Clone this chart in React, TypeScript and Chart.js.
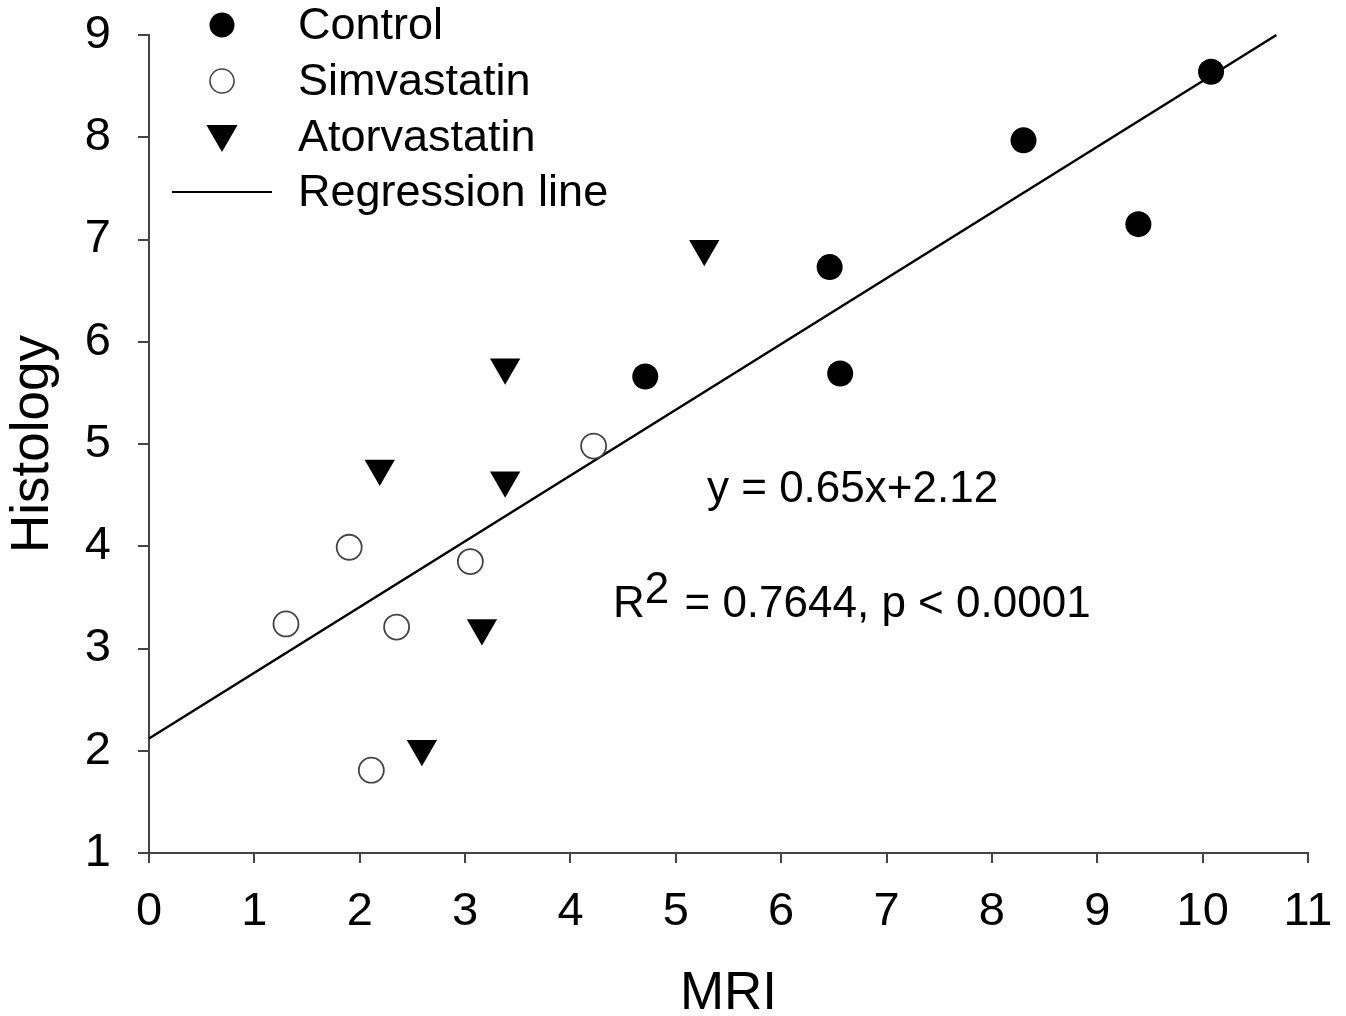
import React, { useEffect, useRef } from 'react';
import { Chart, registerables } from 'chart.js';

Chart.register(...registerables);

// ---- Data ----
const controlX = [4.71, 6.46, 6.56, 8.3, 9.39, 10.08];
const controlY = [5.66, 6.73, 5.69, 7.97, 7.15, 8.64];
const simvastatinX = [1.3, 1.9, 2.11, 2.35, 3.05, 4.22];
const simvastatinY = [3.24, 3.99, 1.81, 3.21, 3.85, 4.98];
const atorvastatinX = [2.19, 2.59, 3.16, 3.38, 3.38, 5.27];
const atorvastatinY = [4.76, 2.02, 3.2, 4.645, 5.75, 6.91];
const regressionX = [0, 10.7];
const regressionY = [2.12, 9.0];

const xTicks = [0, 1, 2, 3, 4, 5, 6, 7, 8, 9, 10, 11];
const yTicks = [1, 2, 3, 4, 5, 6, 7, 8, 9];

const seriesNames = ['Control', 'Simvastatin', 'Atorvastatin', 'Regression line'];
const xTitle = 'MRI';
const yTitle = 'Histology';
const equationText = 'y = 0.65x+2.12';
const statsPrefix = 'R';
const statsSup = '2';
const statsRest = ' = 0.7644, p < 0.0001';

const FONT = '"Liberation Sans", Arial, sans-serif';
const AXIS = '#444444';

const toPoints = (xs: number[], ys: number[]) => xs.map((x, i) => ({ x, y: ys[i] }));

const extrasPlugin = {
  id: 'extras',
  afterDraw(chart: any) {
    const { ctx, chartArea } = chart;
    const { left, top, bottom } = chartArea;
    ctx.save();
    // x-axis extension to the left of the y axis
    ctx.strokeStyle = AXIS;
    ctx.lineWidth = 2;
    ctx.beginPath();
    ctx.moveTo(left - 11, bottom);
    ctx.lineTo(left, bottom);
    ctx.stroke();

    // Legend
    const mx = left + 73;
    const rows = [top - 10, top + 46, top + 102, top + 157];
    const tx = left + 149;
    // Control
    ctx.fillStyle = '#000';
    ctx.beginPath();
    ctx.arc(mx, rows[0], 12.5, 0, Math.PI * 2);
    ctx.fill();
    // Simvastatin
    ctx.fillStyle = '#fff';
    ctx.strokeStyle = '#444';
    ctx.lineWidth = 1.6;
    ctx.beginPath();
    ctx.arc(mx, rows[1], 12, 0, Math.PI * 2);
    ctx.fill();
    ctx.stroke();
    // Atorvastatin (down triangle)
    const r = 18;
    const cy = rows[2] - 3;
    ctx.fillStyle = '#000';
    ctx.beginPath();
    ctx.moveTo(mx, cy + r);
    ctx.lineTo(mx - r * Math.sin(Math.PI / 3), cy - r / 2);
    ctx.lineTo(mx + r * Math.sin(Math.PI / 3), cy - r / 2);
    ctx.closePath();
    ctx.fill();
    // Regression line
    ctx.strokeStyle = '#000';
    ctx.lineWidth = 2;
    ctx.beginPath();
    ctx.moveTo(mx - 50, rows[3]);
    ctx.lineTo(mx + 50, rows[3]);
    ctx.stroke();

    ctx.fillStyle = '#000';
    ctx.font = `45px ${FONT}`;
    ctx.textAlign = 'left';
    ctx.textBaseline = 'middle';
    seriesNames.forEach((name, i) => {
      ctx.fillText(name, tx, rows[i] + 2);
    });

    // Annotations
    ctx.font = `44px ${FONT}`;
    ctx.textBaseline = 'alphabetic';
    ctx.fillText(equationText, 707, 502);
    ctx.fillText(statsPrefix, 613, 617);
    const rw = ctx.measureText(statsPrefix).width;
    ctx.fillText(statsSup, 613 + rw, 603);
    const sw = ctx.measureText(statsSup).width;
    ctx.fillText(statsRest, 613 + rw + sw + 3, 617);
    ctx.restore();
  },
};

export default function App() {
  const canvasRef = useRef<HTMLCanvasElement | null>(null);

  useEffect(() => {
    const canvas = canvasRef.current;
    if (!canvas) return;
    const chart = new Chart(canvas, {
      type: 'scatter',
      data: {
        datasets: [
          {
            label: seriesNames[0],
            data: toPoints(controlX, controlY),
            pointStyle: 'circle',
            pointRadius: 13,
            pointBackgroundColor: '#000',
            pointBorderColor: '#000',
            pointBorderWidth: 0,
            showLine: false,
          },
          {
            label: seriesNames[1],
            data: toPoints(simvastatinX, simvastatinY),
            pointStyle: 'circle',
            pointRadius: 12.5,
            pointBackgroundColor: '#fff',
            pointBorderColor: '#444',
            pointBorderWidth: 1.8,
            showLine: false,
          },
          {
            label: seriesNames[2],
            data: toPoints(atorvastatinX, atorvastatinY),
            pointStyle: 'triangle',
            pointRotation: 180,
            pointRadius: 17.5,
            pointBackgroundColor: '#000',
            pointBorderColor: '#000',
            pointBorderWidth: 0,
            showLine: false,
          },
          {
            type: 'line',
            label: seriesNames[3],
            data: toPoints(regressionX, regressionY),
            borderColor: '#000',
            borderWidth: 2.5,
            pointRadius: 0,
            showLine: true,
            fill: false,
            clip: false,
          } as any,
        ],
      },
      options: {
        responsive: false,
        animation: false,
        devicePixelRatio: 1,
        layout: { padding: { left: 0, top: 35, right: 38, bottom: 0 } },
        plugins: {
          legend: { display: false },
          tooltip: { enabled: false },
        },
        scales: {
          x: {
            type: 'linear',
            min: 0,
            max: 11,
            afterBuildTicks: (s: any) => {
              s.ticks = xTicks.map((v) => ({ value: v }));
            },
            afterFit: (s: any) => {
              s.height = 163;
            },
            ticks: {
              autoSkip: false,
              maxRotation: 0,
              color: '#000',
              padding: 0,
              font: { family: FONT, size: 47, lineHeight: 2.094 },
            },
            grid: {
              display: true,
              drawOnChartArea: false,
              drawTicks: true,
              tickLength: 10,
              color: AXIS,
              lineWidth: 2,
            },
            border: { display: true, color: AXIS, width: 2 },
            title: {
              display: true,
              text: xTitle,
              color: '#000',
              font: { family: FONT, size: 53, lineHeight: 0.83 },
              padding: { top: 0, bottom: 0 },
            },
          },
          y: {
            type: 'linear',
            min: 1,
            max: 9,
            afterBuildTicks: (s: any) => {
              s.ticks = yTicks.map((v) => ({ value: v }));
            },
            afterFit: (s: any) => {
              s.width = 149;
            },
            ticks: {
              autoSkip: false,
              color: '#000',
              padding: 27,
              font: { family: FONT, size: 47, lineHeight: 0.3 },
            },
            grid: {
              display: true,
              drawOnChartArea: false,
              drawTicks: true,
              tickLength: 11,
              color: AXIS,
              lineWidth: 2,
            },
            border: { display: true, color: AXIS, width: 2 },
            title: {
              display: true,
              text: yTitle,
              color: '#000',
              font: { family: FONT, size: 53, lineHeight: 0.83 },
              padding: { top: 11, bottom: 0 },
            },
          },
        },
      },
      plugins: [extrasPlugin],
    });
    return () => chart.destroy();
  }, []);

  return (
    <div style={{ position: 'absolute', left: 0, top: 0, width: 1346, height: 1016, background: '#fff' }}>
      <canvas ref={canvasRef} width={1346} height={1016} style={{ display: 'block' }} />
    </div>
  );
}
